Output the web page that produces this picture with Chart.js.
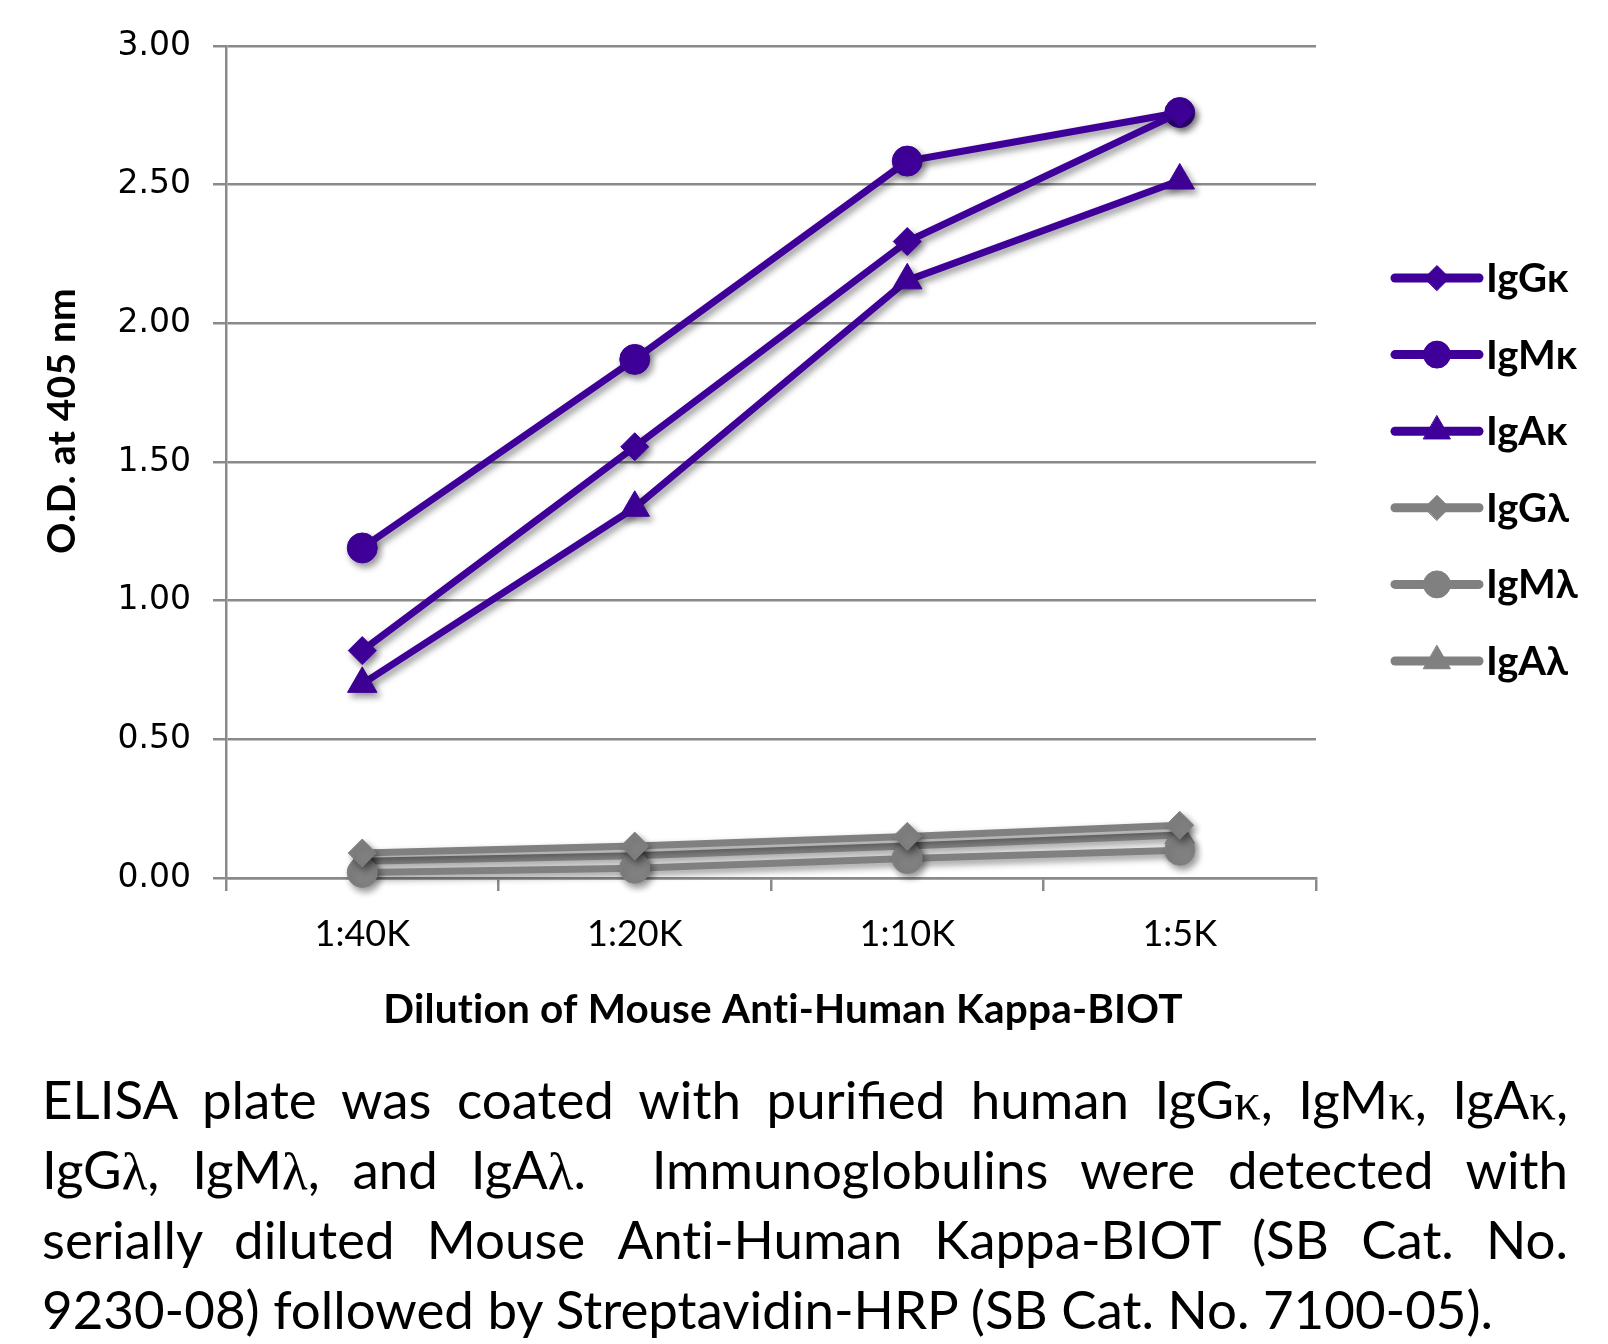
<!DOCTYPE html>
<html>
<head>
<meta charset="utf-8">
<script src="https://cdn.jsdelivr.net/npm/chart.js@4.4.1/dist/chart.umd.min.js"></script>
<style>
html,body{margin:0;padding:0;background:#fff;}
body{width:1608px;height:1344px;position:relative;overflow:hidden;}
#wrap{position:absolute;left:0;top:0;width:1608px;height:1050px;}
#caption{position:absolute;left:42px;top:1062px;width:1526px;font-family:Lato,sans-serif;color:#000;}
.ln{text-align:justify;text-align-last:justify;height:70px;line-height:70px;white-space:nowrap;}
.ln.last{text-align-last:left;}
.g{font-family:"Liberation Serif",serif;}
.nl{font-variant-ligatures:none;}
</style>
</head>
<body>
<div id="wrap"><canvas id="c" width="1608" height="1050"></canvas></div>
<div id="caption">
<div class="ln">ELISA plate was coated with purified human IgG<span class="g">κ</span>, IgM<span class="g">κ</span>, IgA<span class="g">κ</span>,</div>
<div class="ln">IgG<span class="g">λ</span>, IgM<span class="g">λ</span>, and IgA<span class="g">λ</span>.&nbsp; Immunoglobulins were detected with</div>
<div class="ln">serially diluted Mouse <span class="nl">Anti</span>-Human Kappa-BIOT (SB Cat. No.</div>
<div class="ln last" id="lastLine">9230-08) followed by Streptavidin-HRP (SB Cat. No. 7100-05).</div>
</div>
<script>
// ---- data ----
const categories = ['1:40K', '1:20K', '1:10K', '1:5K'];
const seriesNames = ['IgGκ', 'IgMκ', 'IgAκ', 'IgGλ', 'IgMλ', 'IgAλ'];
const IgGk = [0.82, 1.555, 2.295, 2.76];
const IgMk = [1.19, 1.87, 2.585, 2.76];
const IgAk = [0.70, 1.335, 2.155, 2.515];
const IgGl = [0.09, 0.115, 0.15, 0.19];
const IgMl = [0.02, 0.035, 0.07, 0.10];
const IgAl = [0.06, 0.08, 0.115, 0.155];
const yMin = 0, yMax = 3, yStep = 0.5;
const xTitle = 'Dilution of Mouse Anti-Human Kappa-BIOT';
const yTitle = 'O.D. at 405 nm';

// ---- styles ----
const PURPLE = '#3f0099';
const GRAY = '#808080';
const seriesValues = [IgGk, IgMk, IgAk, IgGl, IgMl, IgAl];
const seriesColors = [PURPLE, PURPLE, PURPLE, GRAY, GRAY, GRAY];
const seriesStyles = ['rectRot', 'circle', 'triangle', 'rectRot', 'circle', 'triangle'];
const styleRadius = {rectRot: 14, circle: 15, triangle: 17};

const datasets = seriesNames.map((name, i) => ({
  label: name,
  data: seriesValues[i],
  borderColor: seriesColors[i],
  backgroundColor: seriesColors[i],
  pointBackgroundColor: seriesColors[i],
  pointBorderColor: seriesColors[i],
  pointBorderWidth: 1,
  pointStyle: seriesStyles[i],
  pointRadius: styleRadius[seriesStyles[i]],
  borderWidth: 7,
  tension: 0,
  fill: false,
  clip: false
}));

const shadowPlugin = {
  id: 'shadow',
  beforeDatasetsDraw(chart) {
    const c = chart.ctx;
    c.save();
    c.shadowColor = 'rgba(0,0,0,0.42)';
    c.shadowBlur = 7;
    c.shadowOffsetX = 3;
    c.shadowOffsetY = 4;
  },
  afterDatasetsDraw(chart) { chart.ctx.restore(); }
};

const decorPlugin = {
  id: 'decor',
  afterDraw(chart) {
    const ctx = chart.ctx;
    // legend
    const x0 = 1395, x1 = 1479, mid = 1437, tx = 1486, y0 = 278, dy = 76.6;
    chart.data.datasets.forEach((ds, i) => {
      const y = y0 + i * dy;
      ctx.save();
      ctx.strokeStyle = ds.borderColor;
      ctx.lineWidth = 9;
      ctx.lineCap = 'round';
      ctx.beginPath(); ctx.moveTo(x0, y); ctx.lineTo(x1, y); ctx.stroke();
      ctx.fillStyle = ds.pointBackgroundColor;
      ctx.strokeStyle = ds.pointBorderColor;
      ctx.lineWidth = 1;
      Chart.helpers.drawPoint(ctx, {pointStyle: ds.pointStyle, radius: ds.pointRadius - 1.5, rotation: 0, borderWidth: 1}, mid, y);
      ctx.fillStyle = '#000';
      ctx.font = 'bold 40px Lato';
      ctx.textAlign = 'left';
      ctx.textBaseline = 'alphabetic';
      ctx.fillText(ds.label, tx, y + 14);
      ctx.restore();
    });
    // axis titles
    ctx.save();
    ctx.fillStyle = '#000';
    ctx.font = 'bold 40.5px Lato';
    ctx.letterSpacing = '0.2px';
    ctx.textAlign = 'center';
    ctx.textBaseline = 'alphabetic';
    ctx.fillText(xTitle, 783, 1023);
    ctx.font = 'bold 39px Lato';
    ctx.translate(75, 421);
    ctx.rotate(-Math.PI / 2);
    ctx.fillText(yTitle, 0, 0);
    ctx.restore();
  }
};

new Chart(document.getElementById('c'), {
  type: 'line',
  data: {labels: categories, datasets: datasets},
  options: {
    responsive: false,
    animation: false,
    events: [],
    layout: {padding: {left: 0, top: 46, right: 292, bottom: 0}},
    plugins: {legend: {display: false}, tooltip: {enabled: false}, title: {display: false}},
    scales: {
      x: {
        type: 'category',
        offset: true,
        grid: {display: true, drawOnChartArea: false, drawTicks: true, tickLength: 13, offset: true, color: '#8a8a8a', lineWidth: 2.5},
        border: {display: true, color: '#8a8a8a', width: 2.5},
        ticks: {color: '#000', font: {family: 'Lato', size: 36}, padding: 22, maxRotation: 0},
        afterFit(s) { s.height = 1050 - 878; }
      },
      y: {
        min: yMin, max: yMax,
        grid: {display: true, drawOnChartArea: true, drawTicks: true, tickLength: 13, color: '#8a8a8a', lineWidth: 2.5},
        border: {display: true, color: '#8a8a8a', width: 2.5},
        ticks: {stepSize: yStep, color: '#000', font: {family: 'DejaVu Sans', size: 33}, padding: 22,
                callback: v => Number(v).toFixed(2)},
        afterFit(s) { s.width = 226; }
      }
    }
  },
  plugins: [shadowPlugin, decorPlugin]
});

// caption sizing: fit the last (unjustified) line to the reference width
(function(){
  const cv = document.createElement('canvas').getContext('2d');
  cv.font = '100px Lato';
  const w = cv.measureText(document.getElementById('lastLine').textContent).width;
  let f = 100 * 1454 / w;
  const cap = document.getElementById('caption');
  cap.style.fontSize = f.toFixed(2) + 'px';
  cap.style.top = (1119 - (35 - 0.6 * f + 0.987 * f)) + 'px';
})();
</script>
</body>
</html>
